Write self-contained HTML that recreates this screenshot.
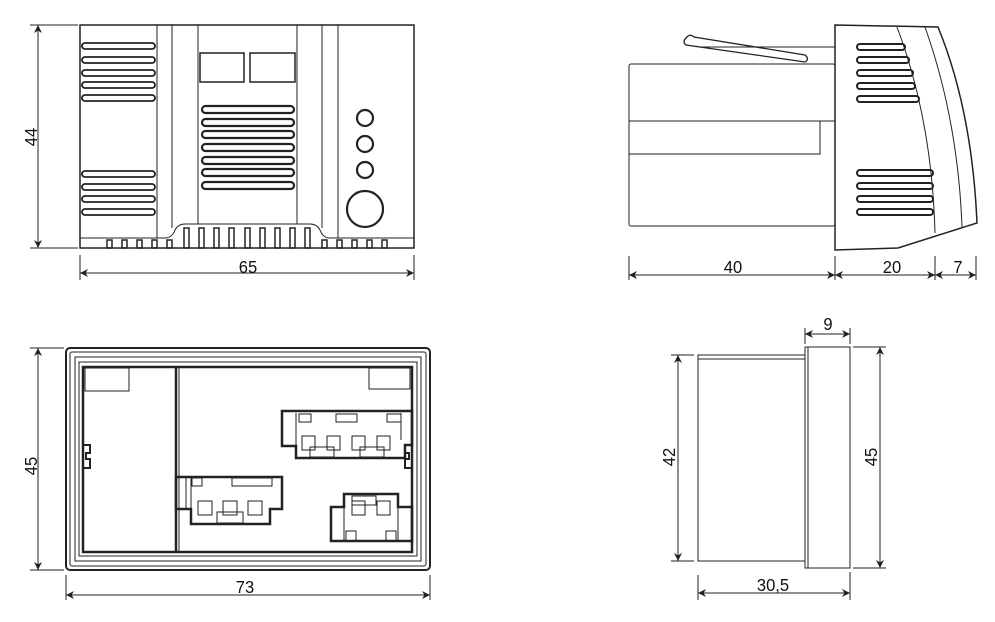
<!DOCTYPE html>
<html><head><meta charset="utf-8"><style>
html,body{margin:0;padding:0;background:#fff;}
svg{display:block;}
text{font-family:"Liberation Sans",sans-serif;font-size:18px;fill:#111;}
</style></head><body>
<svg width="995" height="622" viewBox="0 0 995 622" xmlns="http://www.w3.org/2000/svg">
<defs>
<marker id="a" viewBox="0 0 10 10" refX="10" refY="5" markerWidth="12" markerHeight="8" orient="auto-start-reverse" markerUnits="userSpaceOnUse"><path d="M0,0 L10,5 L0,10 L3,5 z" fill="#222"/></marker>
</defs>
<g stroke="#222" fill="none" stroke-width="1">
<rect x="80" y="25" width="334" height="223" stroke-width="1.5"/>
<line x1="157" y1="25" x2="157" y2="238"/>
<line x1="172" y1="25" x2="172" y2="228"/>
<line x1="198" y1="25" x2="198" y2="224"/>
<line x1="297" y1="25" x2="297" y2="224"/>
<line x1="322" y1="25" x2="322" y2="228"/>
<line x1="338" y1="25" x2="338" y2="238"/>
<path d="M80,238 H165 Q172,238 175,230 Q178,224 185,224 H310 Q317,224 320,230 Q323,238 330,238 H414"/>
<rect x="200" y="53" width="44" height="29" stroke-width="1.5"/>
<rect x="250" y="53" width="45" height="29" stroke-width="1.5"/>
<g stroke-width="2.2">
<rect x="202" y="106" width="92" height="7" rx="3.5"/>
<rect x="202" y="119" width="92" height="7" rx="3.5"/>
<rect x="202" y="131" width="92" height="7" rx="3.5"/>
<rect x="202" y="144" width="92" height="7" rx="3.5"/>
<rect x="202" y="157" width="92" height="7" rx="3.5"/>
<rect x="202" y="169" width="92" height="7" rx="3.5"/>
<rect x="202" y="182" width="92" height="7" rx="3.5"/>
<circle cx="365" cy="118" r="8"/>
<circle cx="365" cy="144" r="8"/>
<circle cx="365" cy="170" r="8"/>
<circle cx="365" cy="209" r="18"/>
</g>
<g stroke-width="1.8">
<rect x="82" y="43" width="73" height="6" rx="3"/>
<rect x="82" y="57" width="73" height="6" rx="3"/>
<rect x="82" y="70" width="73" height="6" rx="3"/>
<rect x="82" y="82" width="73" height="6" rx="3"/>
<rect x="82" y="95" width="73" height="6" rx="3"/>
<rect x="82" y="171" width="73" height="6" rx="3"/>
<rect x="82" y="184" width="73" height="6" rx="3"/>
<rect x="82" y="196" width="73" height="6" rx="3"/>
<rect x="82" y="209" width="73" height="6" rx="3"/>
</g>
<g stroke-width="1.5">
<rect x="107" y="240" width="5" height="8"/><rect x="122" y="240" width="5" height="8"/><rect x="137" y="240" width="5" height="8"/><rect x="152" y="240" width="5" height="8"/><rect x="167" y="240" width="5" height="8"/>
<rect x="184" y="228" width="5" height="20"/><rect x="199" y="228" width="5" height="20"/><rect x="214" y="228" width="5" height="20"/><rect x="229" y="228" width="5" height="20"/><rect x="245" y="228" width="5" height="20"/><rect x="260" y="228" width="5" height="20"/><rect x="275" y="228" width="5" height="20"/><rect x="290" y="228" width="5" height="20"/><rect x="305" y="228" width="5" height="20"/>
<rect x="322" y="240" width="5" height="8"/><rect x="337" y="240" width="5" height="8"/><rect x="352" y="240" width="5" height="8"/><rect x="367" y="240" width="5" height="8"/><rect x="382" y="240" width="5" height="8"/>
</g>
<line x1="80" y1="255" x2="80" y2="280"/><line x1="414" y1="255" x2="414" y2="280"/>
<line x1="80" y1="273" x2="414" y2="273" marker-start="url(#a)" marker-end="url(#a)"/>
<line x1="30" y1="25" x2="78" y2="25"/><line x1="30" y1="248" x2="78" y2="248"/>
<line x1="38" y1="25" x2="38" y2="248" marker-start="url(#a)" marker-end="url(#a)"/>

<rect x="629" y="64" width="206" height="162" rx="2"/>
<line x1="629" y1="121" x2="835" y2="121"/>
<path d="M629,154 H820 V121"/>
<path d="M686,38 Q690,33 694,37 L805,55 Q810,59 805,62 L686,45 Q682,42 686,38 Z" stroke-width="1.3"/>
<line x1="700" y1="47" x2="835" y2="47"/>
<path d="M835,25 L938,27 Q972,110 977,223 L898,248 L835,250 Z" stroke-width="1.5"/>
<path d="M897,27 Q932,120 935,233"/>
<path d="M925,27 Q958,120 962,227"/>
<g stroke-width="2">
<rect x="857" y="44" width="48" height="6" rx="3"/>
<rect x="857" y="57" width="52" height="6" rx="3"/>
<rect x="857" y="70" width="56" height="6" rx="3"/>
<rect x="857" y="83" width="58" height="6" rx="3"/>
<rect x="857" y="96" width="62" height="6" rx="3"/>
<rect x="857" y="170" width="76" height="6" rx="3"/>
<rect x="857" y="183" width="76" height="6" rx="3"/>
<rect x="857" y="196" width="76" height="6" rx="3"/>
<rect x="857" y="209" width="76" height="6" rx="3"/>
</g>
<line x1="629" y1="256" x2="629" y2="280"/><line x1="835" y1="256" x2="835" y2="280"/><line x1="935" y1="256" x2="935" y2="280"/><line x1="976" y1="256" x2="976" y2="280"/>
<line x1="629" y1="275" x2="835" y2="275" marker-start="url(#a)" marker-end="url(#a)"/>
<line x1="835" y1="275" x2="935" y2="275" marker-start="url(#a)" marker-end="url(#a)"/>
<line x1="935" y1="275" x2="976" y2="275" marker-start="url(#a)" marker-end="url(#a)"/>

<rect x="66" y="348" width="364" height="222" rx="4" stroke-width="2"/>
<rect x="70" y="352" width="356" height="214" rx="2"/>
<rect x="75" y="357" width="346" height="204"/>
<rect x="79" y="362" width="338" height="194"/>
<rect x="83" y="367" width="329" height="185" stroke-width="2.5"/>
<line x1="176" y1="367" x2="176" y2="552" stroke-width="2.5"/>
<line x1="179" y1="367" x2="179" y2="552"/>
<rect x="85" y="368" width="44" height="23"/>
<rect x="369" y="368" width="41" height="21"/>
<path d="M83,445 h7 v8 h-4 v6 h4 v9 h-7" stroke-width="2"/>
<path d="M412,445 h-7 v8 h4 v6 h-4 v9 h7" stroke-width="2"/>
<path d="M282,411 H412 V445 H405 V458 H296 V446 H282 Z" stroke-width="2.5"/>
<line x1="296" y1="413" x2="296" y2="446"/>
<line x1="401" y1="413" x2="401" y2="440"/>
<rect x="299" y="414" width="12" height="8"/><rect x="336" y="414" width="21" height="8"/><rect x="387" y="414" width="14" height="8"/>
<rect x="302" y="436" width="13" height="14"/><rect x="327" y="436" width="13" height="14"/><rect x="352" y="436" width="13" height="14"/><rect x="377" y="436" width="13" height="14"/>
<rect x="310" y="447" width="24" height="10"/><rect x="360" y="447" width="24" height="10"/>
<path d="M176,477 H282 V509 H270 V524 H191 V509 H176 Z" stroke-width="2.5"/>
<line x1="191" y1="478" x2="191" y2="509"/><line x1="186" y1="478" x2="186" y2="508"/>
<rect x="192" y="478" width="10" height="8"/><rect x="232" y="478" width="40" height="8"/>
<rect x="198" y="501" width="14" height="14"/><rect x="223" y="501" width="14" height="14"/><rect x="248" y="501" width="14" height="14"/>
<rect x="217" y="512" width="26" height="11"/>
<path d="M331,507 H344 V494 H398 V507 H412 V541 H331 Z" stroke-width="2.5"/>
<line x1="344" y1="507" x2="344" y2="541"/><line x1="398" y1="507" x2="398" y2="541"/>
<rect x="352" y="496" width="24" height="9"/>
<rect x="352" y="501" width="13" height="14"/><rect x="377" y="501" width="13" height="14"/>
<rect x="346" y="531" width="10" height="10"/><rect x="386" y="531" width="10" height="10"/>
<line x1="66" y1="575" x2="66" y2="600"/><line x1="430" y1="575" x2="430" y2="600"/>
<line x1="66" y1="595" x2="430" y2="595" marker-start="url(#a)" marker-end="url(#a)"/>
<line x1="30" y1="348" x2="64" y2="348"/><line x1="30" y1="570" x2="64" y2="570"/>
<line x1="38" y1="348" x2="38" y2="570" marker-start="url(#a)" marker-end="url(#a)"/>

<rect x="698" y="355" width="107" height="206"/>
<line x1="698" y1="359" x2="805" y2="359"/>
<rect x="805" y="347" width="45" height="221"/>
<line x1="808" y1="347" x2="808" y2="568"/>
<line x1="805" y1="328" x2="805" y2="344"/><line x1="850" y1="328" x2="850" y2="344"/>
<line x1="805" y1="334" x2="850" y2="334" marker-start="url(#a)" marker-end="url(#a)"/>
<line x1="671" y1="355" x2="694" y2="355"/><line x1="671" y1="561" x2="694" y2="561"/>
<line x1="678" y1="355" x2="678" y2="561" marker-start="url(#a)" marker-end="url(#a)"/>
<line x1="853" y1="347" x2="886" y2="347"/><line x1="853" y1="568" x2="886" y2="568"/>
<line x1="880" y1="347" x2="880" y2="568" marker-start="url(#a)" marker-end="url(#a)"/>
<line x1="698" y1="575" x2="698" y2="600"/><line x1="850" y1="572" x2="850" y2="600"/>
<line x1="698" y1="593" x2="850" y2="593" marker-start="url(#a)" marker-end="url(#a)"/>
</g>
<g>
<text transform="translate(248,273) scale(0.92,1)" text-anchor="middle">65</text>
<text transform="translate(37,137) rotate(-90) scale(0.92,1)" text-anchor="middle">44</text>
<text transform="translate(733,273) scale(0.92,1)" text-anchor="middle">40</text>
<text transform="translate(892,273) scale(0.92,1)" text-anchor="middle">20</text>
<text transform="translate(958,273) scale(0.92,1)" text-anchor="middle">7</text>
<text transform="translate(245,593) scale(0.92,1)" text-anchor="middle">73</text>
<text transform="translate(37,466) rotate(-90) scale(0.92,1)" text-anchor="middle">45</text>
<text transform="translate(828,330) scale(0.92,1)" text-anchor="middle">9</text>
<text transform="translate(675,457) rotate(-90) scale(0.92,1)" text-anchor="middle">42</text>
<text transform="translate(877,457) rotate(-90) scale(0.92,1)" text-anchor="middle">45</text>
<text transform="translate(773,591) scale(0.92,1)" text-anchor="middle">30,5</text>
</g>
</svg>
</body></html>
